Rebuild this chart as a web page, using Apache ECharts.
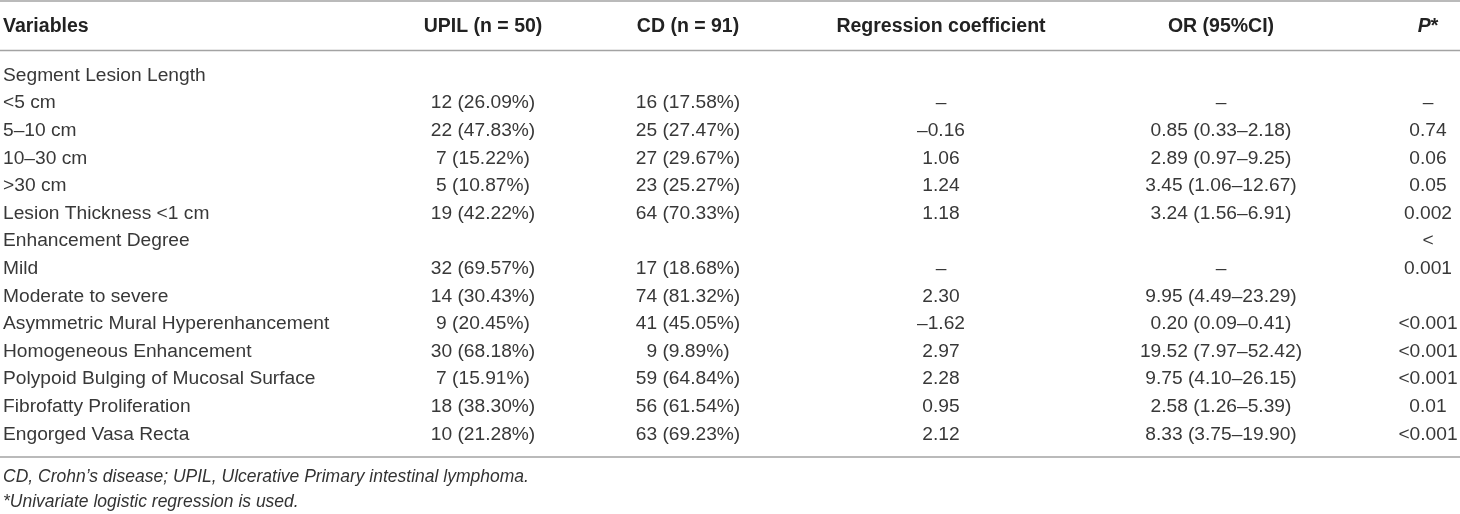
<!DOCTYPE html>
<html>
<head>
<meta charset="utf-8">
<script src="https://cdn.jsdelivr.net/npm/echarts@6/dist/echarts.min.js"></script>
<style>
	html, body { margin: 0; padding: 0; background: #fff; }
	#main { width: 1460px; height: 514px; }
</style>
</head>
<body>
<div id="main"></div>
<script>
	// table content
	var headers = ['Variables', 'UPIL (n = 50)', 'CD (n = 91)', 'Regression coefficient', 'OR (95%CI)', 'P*'];
	var variables = ['Segment Lesion Length', '<5 cm', '5–10 cm', '10–30 cm', '>30 cm', 'Lesion Thickness <1 cm',
		'Enhancement Degree', 'Mild', 'Moderate to severe', 'Asymmetric Mural Hyperenhancement',
		'Homogeneous Enhancement', 'Polypoid Bulging of Mucosal Surface', 'Fibrofatty Proliferation', 'Engorged Vasa Recta'];
	var upil = ['', '12 (26.09%)', '22 (47.83%)', '7 (15.22%)', '5 (10.87%)', '19 (42.22%)', '', '32 (69.57%)',
		'14 (30.43%)', '9 (20.45%)', '30 (68.18%)', '7 (15.91%)', '18 (38.30%)', '10 (21.28%)'];
	var cd = ['', '16 (17.58%)', '25 (27.47%)', '27 (29.67%)', '23 (25.27%)', '64 (70.33%)', '', '17 (18.68%)',
		'74 (81.32%)', '41 (45.05%)', '9 (9.89%)', '59 (64.84%)', '56 (61.54%)', '63 (69.23%)'];
	var coef = ['', '–', '–0.16', '1.06', '1.24', '1.18', '', '–', '2.30', '–1.62', '2.97', '2.28', '0.95', '2.12'];
	var orCI = ['', '–', '0.85 (0.33–2.18)', '2.89 (0.97–9.25)', '3.45 (1.06–12.67)', '3.24 (1.56–6.91)', '', '–',
		'9.95 (4.49–23.29)', '0.20 (0.09–0.41)', '19.52 (7.97–52.42)', '9.75 (4.10–26.15)', '2.58 (1.26–5.39)', '8.33 (3.75–19.90)'];
	var pVal = ['', '–', '0.74', '0.06', '0.05', '0.002', '<', '0.001', '', '<0.001', '<0.001', '<0.001', '0.01', '<0.001'];
	var notes = ['CD, Crohn’s disease; UPIL, Ulcerative Primary intestinal lymphoma.', '*Univariate logistic regression is used.'];

	// column anchors on the x scale and their alignment
	var colX = [3, 483, 688, 941, 1221, 1428];
	var colAlign = ['left', 'center', 'center', 'center', 'center', 'center'];

	var columns = [variables, upil, cd, coef, orCI, pVal];
	var cells = [];
	var cellText = [];
	for (var c = 0; c < columns.length; c++) {
		for (var r = 0; r < variables.length; r++) {
			if (!columns[c][r]) continue;
			cells.push([colX[c], r, c]);
			cellText.push(columns[c][r]);
		}
	}

	var bodyFont = '"Liberation Sans", Arial, Helvetica, sans-serif';

	var myChart = echarts.init(document.getElementById('main'));

	var headerGraphics = headers.map(function(h, i) {
		var rich = {
			b: { fontFamily: bodyFont, fontWeight: 'bold', fontSize: 19.5, fill: '#222' },
			i: { fontFamily: bodyFont, fontWeight: 'bold', fontStyle: 'italic', fontSize: 19.5, fill: '#222' }
		};
		return {
			type: 'text',
			x: colX[i],
			y: 27,
			style: {
				text: i === 5 ? '{i|P}{b|*}' : '{b|' + h + '}',
				rich: rich,
				align: colAlign[i],
				verticalAlign: 'middle'
			}
		};
	});

	function hline(y) {
		return {
			type: 'line',
			shape: { x1: 0, y1: y, x2: 1460, y2: y },
			style: { stroke: '#a3a3a3', lineWidth: 1.6 }
		};
	}

	function note(text, y) {
		return {
			type: 'text', x: 3, y: y,
			style: { text: text, fontFamily: bodyFont, fontStyle: 'italic', fontSize: 17.5, fill: '#333', verticalAlign: 'middle' }
		};
	}

	var option = {
		animation: false,
		grid: { left: 0, right: 0, top: 61.7, height: 386.4 },
		xAxis: { type: 'value', min: 0, max: 1460, show: false },
		yAxis: { type: 'category', inverse: true, data: variables, show: false },
		graphic: headerGraphics.concat([
			hline(1), hline(50.5), hline(457),
			note(notes[0], 477),
			note(notes[1], 502)
		]),
		series: [{
			type: 'custom',
			clip: false,
			data: cells,
			encode: { x: 0, y: 1 },
			renderItem: function(params, api) {
				var pt = api.coord([api.value(0), api.value(1)]);
				var c = cells[params.dataIndex][2];
				return {
					type: 'text',
					x: pt[0],
					y: pt[1],
					style: {
						text: cellText[params.dataIndex],
						fontFamily: bodyFont,
						fontSize: 19.2,
						fill: '#383838',
						align: colAlign[c],
						verticalAlign: 'middle'
					}
				};
			}
		}]
	};
	myChart.setOption(option);
</script>
</body>
</html>
